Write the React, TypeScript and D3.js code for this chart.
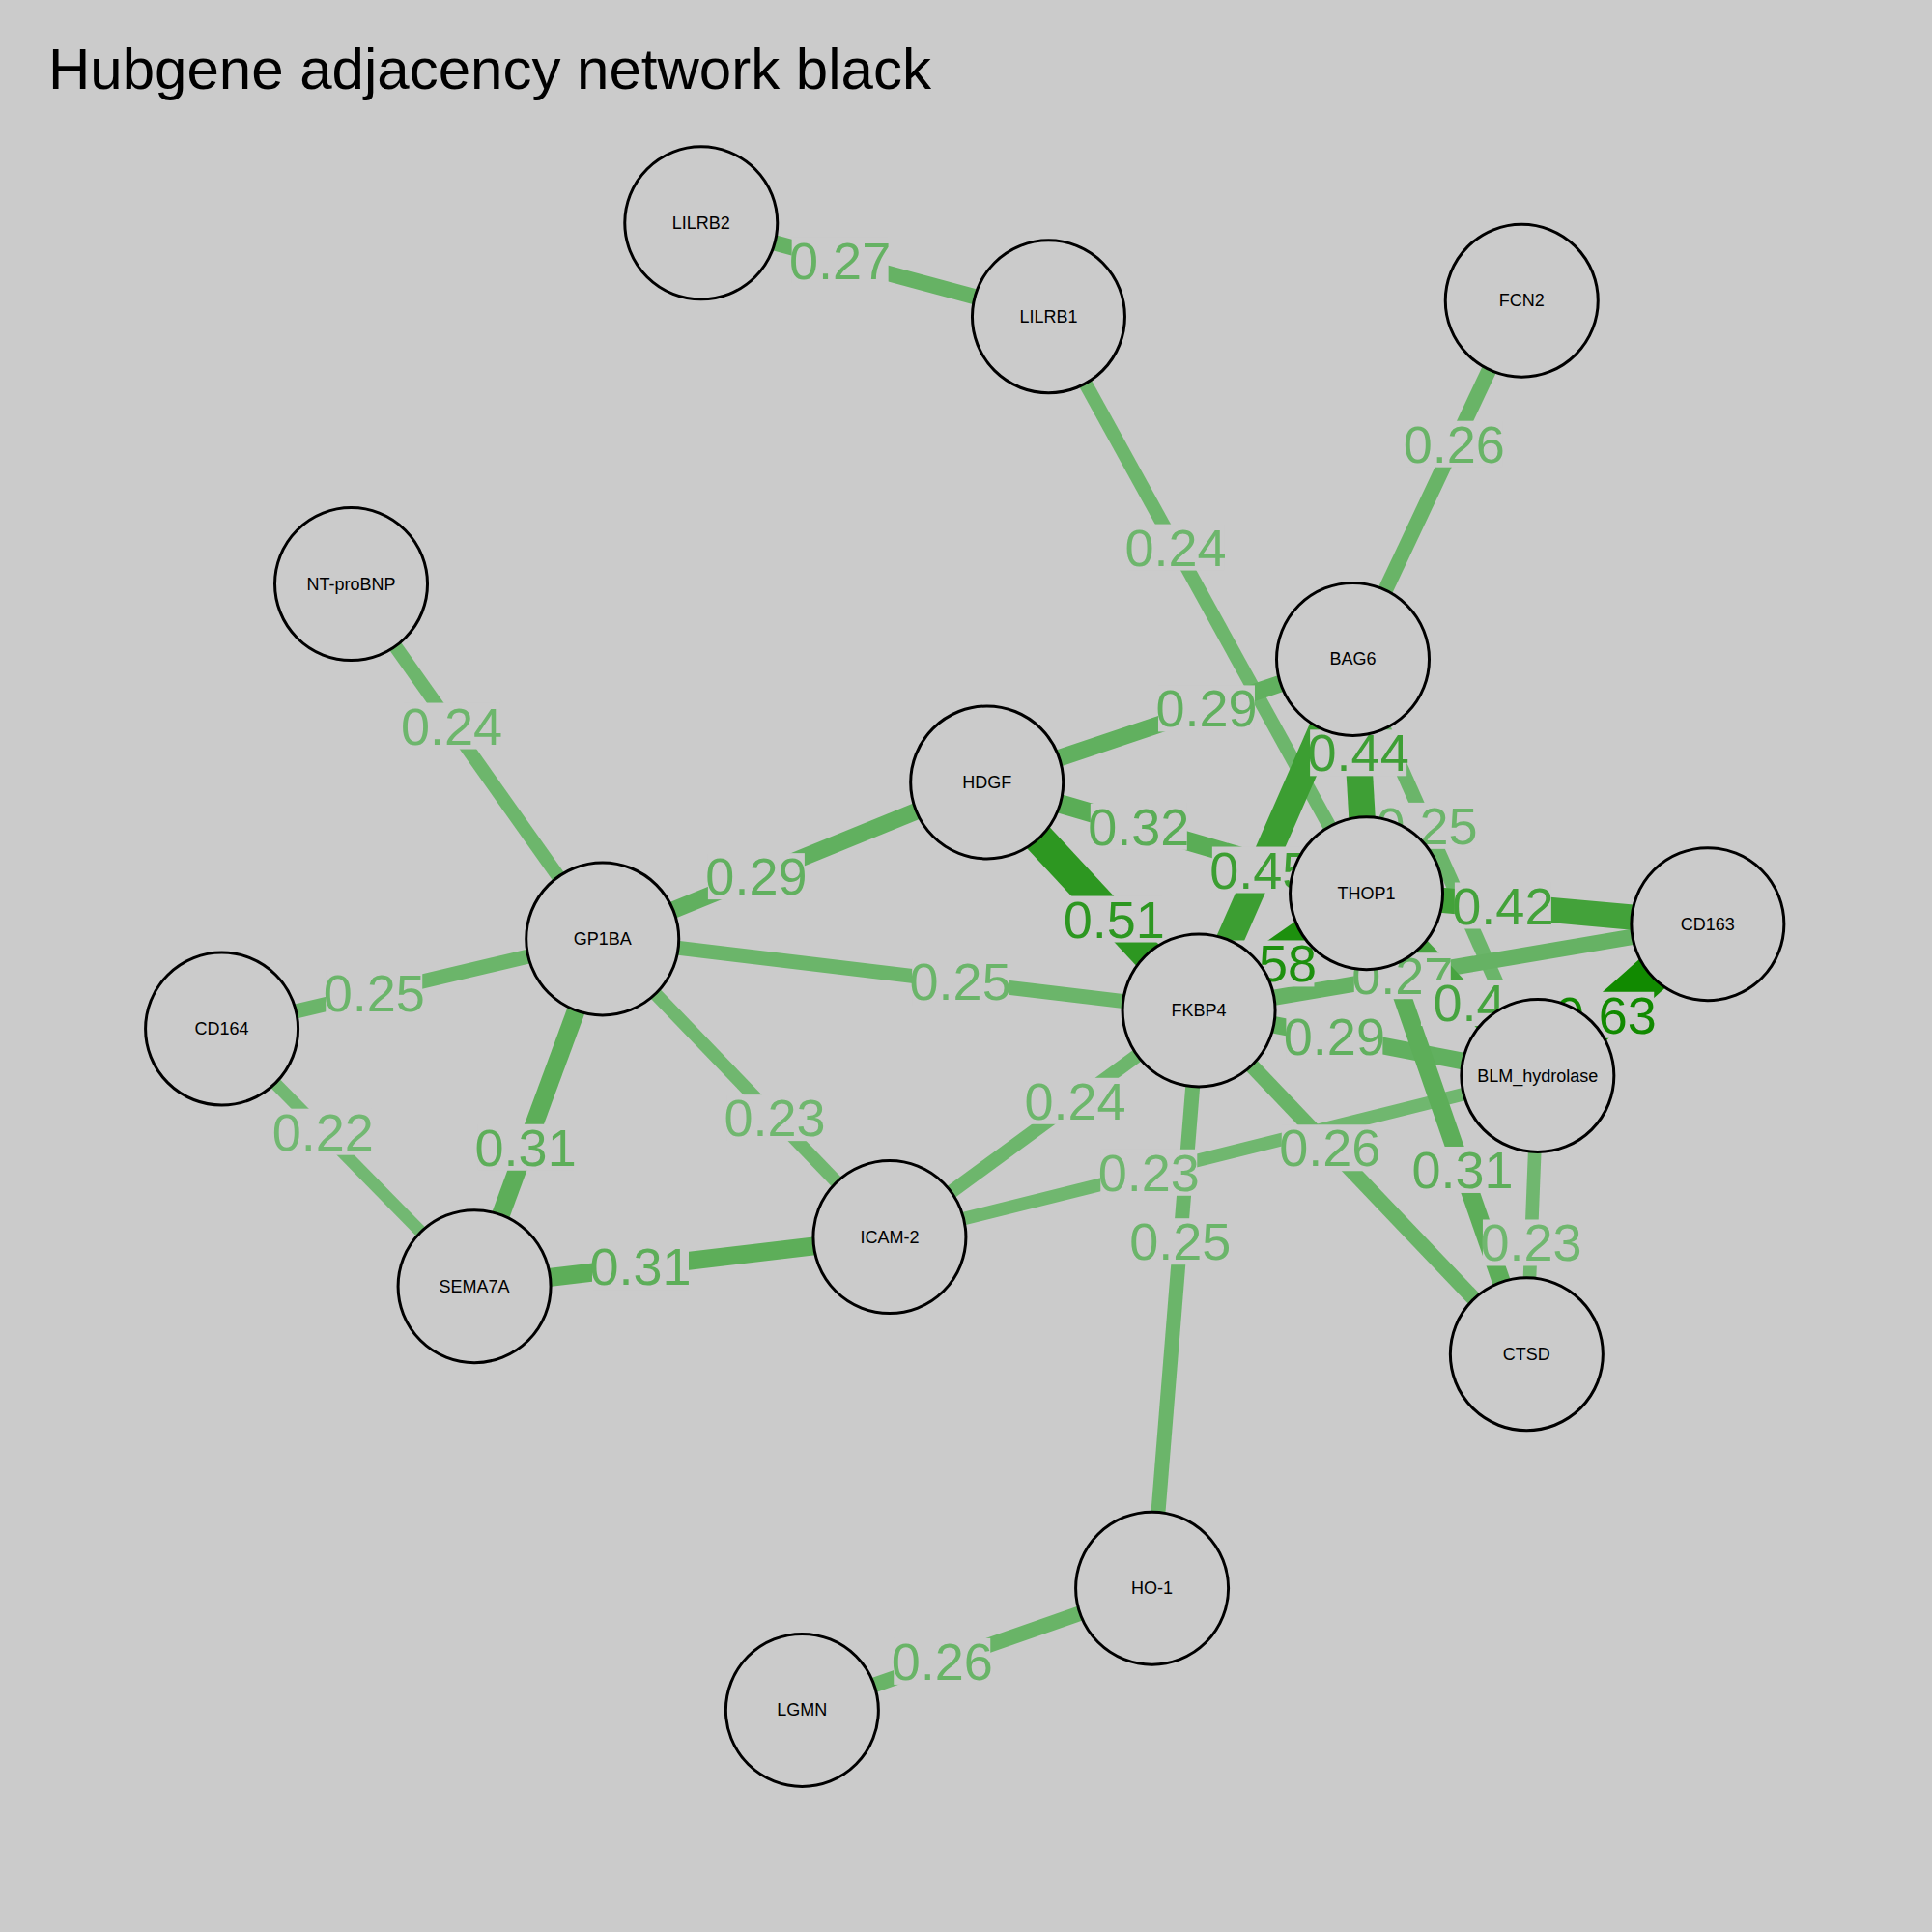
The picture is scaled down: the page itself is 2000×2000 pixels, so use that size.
import React from "react";
import * as d3 from "d3";

const nodeNames = ["LILRB2","LILRB1","FCN2","NT-proBNP","BAG6","HDGF","GP1BA","THOP1","CD163","FKBP4","BLM_hydrolase","CD164","ICAM-2","SEMA7A","CTSD","HO-1","LGMN"];
const nodeX = [569,851,1235,285,1098,801,489,1109,1386,973,1248,180,722,385,1239,935,651];
const nodeY = [181,257,244,474,535,635,762,725,750,820,873,835,1004,1044,1099,1289,1388];

const edgeFrom = ["LILRB2","LILRB1","FCN2","NT-proBNP","BAG6","GP1BA","HDGF","FKBP4","FKBP4","BAG6","BAG6","THOP1","FKBP4","FKBP4","BLM_hydrolase","BLM_hydrolase","FKBP4","CTSD","FKBP4","CTSD","ICAM-2","FKBP4","FKBP4","LGMN","FKBP4","CD164","SEMA7A","ICAM-2","CD164","SEMA7A"];
const edgeTo = ["LILRB1","THOP1","BAG6","GP1BA","HDGF","HDGF","THOP1","HDGF","BAG6","THOP1","BLM_hydrolase","CD163","THOP1","CD163","THOP1","CD163","BLM_hydrolase","THOP1","CTSD","BLM_hydrolase","BLM_hydrolase","ICAM-2","HO-1","HO-1","GP1BA","GP1BA","GP1BA","GP1BA","SEMA7A","ICAM-2"];
const edgeW = [0.27,0.24,0.26,0.24,0.29,0.29,0.32,0.51,0.45,0.44,0.25,0.42,0.58,0.27,0.40,0.63,0.29,0.31,0.26,0.23,0.23,0.24,0.25,0.26,0.25,0.25,0.31,0.23,0.22,0.31];

const BG = "#cbcbcb";

export default function App() {
  const s = d3.scaleLinear().domain([0, 1568]).range([0, 2000]);
  const idx = (n: string) => nodeNames.indexOf(n);
  const col = d3.scaleLinear<string>().domain([0.22, 0.63]).range(["#72b872", "#118a00"]).clamp(true);
  const wid = d3.scaleLinear().domain([0.22, 0.63]).range([13, 40]);
  const order = d3.range(edgeW.length).sort((a, b) => edgeW[a] - edgeW[b]);
  const fmt = (w: number) => (Math.round(w * 100) / 100).toString();
  return (
    <svg width={2000} height={2000} style={{ position: "fixed", left: 0, top: 0 }} fontFamily="Liberation Sans, Arial, sans-serif">
      <rect width={2000} height={2000} fill={BG} />
      <text x={50} y={92} fontSize={60}>Hubgene adjacency network black</text>
      {order.map((i) => {
        const a = idx(edgeFrom[i]), b = idx(edgeTo[i]);
        return <line key={"e" + i} x1={s(nodeX[a])} y1={s(nodeY[a])} x2={s(nodeX[b])} y2={s(nodeY[b])} stroke={col(edgeW[i])} strokeWidth={wid(edgeW[i])} />;
      })}
      {order.map((i) => {
        const a = idx(edgeFrom[i]), b = idx(edgeTo[i]);
        const x = s(nodeX[a] + 0.4 * (nodeX[b] - nodeX[a]));
        const y = s(nodeY[a] + 0.4 * (nodeY[b] - nodeY[a]));
        return (
          <g key={"l" + i}>
            <rect x={x - 50} y={y - 24} width={100} height={48} fill={BG} />
            <text x={x} y={y} textAnchor="middle" dominantBaseline="central" fontSize={54} fill={col(edgeW[i])}>{fmt(edgeW[i])}</text>
          </g>
        );
      })}
      {nodeNames.map((n, i) => (
        <g key={n}>
          <circle cx={s(nodeX[i])} cy={s(nodeY[i])} r={79} fill={BG} stroke="#000" strokeWidth={3} />
          <text x={s(nodeX[i])} y={s(nodeY[i])} textAnchor="middle" dominantBaseline="central" fontSize={18}>{n}</text>
        </g>
      ))}
    </svg>
  );
}
